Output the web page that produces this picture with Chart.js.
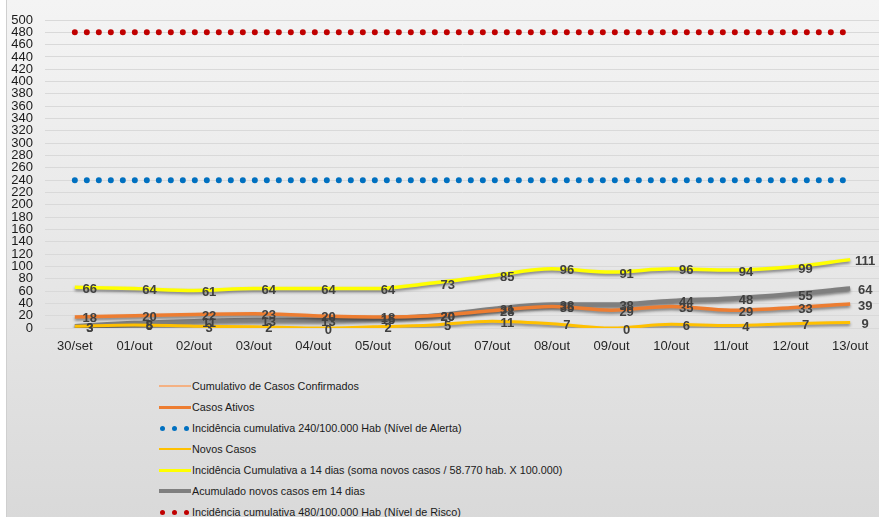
<!DOCTYPE html>
<html>
<head>
<meta charset="utf-8">
<script src="https://cdn.jsdelivr.net/npm/chart.js@4/dist/chart.umd.min.js"></script>
<style>
  html, body { margin: 0; padding: 0; background: #ffffff; overflow: hidden; }
  body { width: 879px; height: 517px; position: relative; }
  #moldura {
    position: absolute; left: 6px; top: -1px; width: 900px; height: 520px;
    border: 1px solid #cfcfcf;
    background: linear-gradient(to bottom, #f4f4f4 0%, #e6e6e6 55%, #d9d9d9 100%);
  }
  #chartContainer { position: absolute; left: 0; top: 0; width: 880px; height: 365px; }
  #legenda {
    position: absolute; left: 157px; top: 375px;
    font-family: "Liberation Sans", Arial, sans-serif; font-size: 10.8px; color: #1a1a1a;
  }
  .item { height: 21px; display: flex; align-items: center; white-space: nowrap; }
  .amostra { width: 34px; height: 10px; position: relative; margin-right: 1px; }
</style>
</head>
<body>
<div id="moldura"></div>
<div id="chartContainer"><canvas id="myLineChart"></canvas></div>
<div id="legenda"></div>
<script>
// Dados
var datas = ['30/set','01/out','02/out','03/out','04/out','05/out','06/out','07/out','08/out','09/out','10/out','11/out','12/out','13/out'];
var cumulativoConfirmados = [];
var casosAtivos = [18, 20, 22, 23, 20, 18, 20, 28, 35, 29, 35, 29, 33, 39];
var nivelAlerta = [240, 240, 240, 240, 240, 240, 240, 240, 240, 240, 240, 240, 240, 240];
var novosCasos = [3, 5, 3, 2, 0, 2, 5, 11, 7, 0, 6, 4, 7, 9];
var incidencia14 = [66, 64, 61, 64, 64, 64, 73, 85, 96, 91, 96, 94, 99, 111];
var acumulado14 = [3, 8, 11, 13, 13, 15, 20, 31, 38, 38, 44, 48, 55, 64];
var nivelRisco = [480, 480, 480, 480, 480, 480, 480, 480, 480, 480, 480, 480, 480, 480];
var ticksY = [0, 20, 40, 60, 80, 100, 120, 140, 160, 180, 200, 220, 240, 260, 280, 300, 320, 340, 360, 380, 400, 420, 440, 460, 480, 500];

document.addEventListener('DOMContentLoaded', function() {
    var ctx = document.getElementById('myLineChart').getContext('2d');
    var chartContainer = document.getElementById('chartContainer');
    ctx.canvas.width = chartContainer.clientWidth;
    ctx.canvas.height = chartContainer.clientHeight;

    // rótulos de valores (ao lado de cada ponto)
    var rotulos = {
        id: 'rotulos',
        afterDatasetsDraw: function(chart) {
            var c = chart.ctx;
            c.save();
            c.font = 'bold 13px "Liberation Sans", Arial, sans-serif';
            c.fillStyle = '#404040';
            c.textAlign = 'center';
            c.textBaseline = 'middle';
            chart.data.datasets.forEach(function(ds, i) {
                if (!ds.mostrarValores) return;
                var meta = chart.getDatasetMeta(i);
                meta.data.forEach(function(pt, j) {
                    c.fillText(String(ds.data[j]), pt.x + 15, pt.y + 2);
                });
            });
            c.restore();
        }
    };
    // sombra das linhas
    var sombra = {
        id: 'sombra',
        beforeDatasetDraw: function(chart, args) {
            var ds = chart.data.datasets[args.index];
            chart.ctx.save();
            if (ds.sombra) {
                chart.ctx.shadowColor = 'rgba(0,0,0,0.45)';
                chart.ctx.shadowBlur = 3;
                chart.ctx.shadowOffsetY = 2;
            }
        },
        afterDatasetDraw: function(chart) {
            chart.ctx.restore();
        }
    };

    var conjuntos = [
        { label: 'Cumulativo de Casos Confirmados', data: cumulativoConfirmados, borderColor: '#f4b183', borderWidth: 1.5, tipo: 'linha' },
        { label: 'Casos Ativos', data: casosAtivos, borderColor: '#ed7d31', borderWidth: 3.5, mostrarValores: true, sombra: true, tipo: 'linha' },
        { label: 'Incidência cumulativa 240/100.000 Hab (Nível de Alerta)', data: nivelAlerta, borderColor: '#0070c0', borderWidth: 6, borderDash: [0, 12], borderCapStyle: 'round', tipo: 'pontos' },
        { label: 'Novos Casos', data: novosCasos, borderColor: '#ffc000', borderWidth: 3, mostrarValores: true, sombra: true, tipo: 'linha' },
        { label: 'Incidência Cumulativa a 14 dias (soma novos casos / 58.770 hab. X 100.000)', data: incidencia14, borderColor: '#ffff00', borderWidth: 3.5, mostrarValores: true, sombra: true, tipo: 'linha' },
        { label: 'Acumulado novos casos em 14 dias', data: acumulado14, borderColor: '#7f7f7f', borderWidth: 4.5, mostrarValores: true, sombra: true, tipo: 'linha' },
        { label: 'Incidência cumulativa 480/100.000 Hab (Nível de Risco)', data: nivelRisco, borderColor: '#c00000', borderWidth: 6, borderDash: [0, 12], borderCapStyle: 'round', tipo: 'pontos' }
    ];
    conjuntos.forEach(function(d) {
        d.pointRadius = 0;
        d.fill = false;
        d.tension = 0.4;
        d.cubicInterpolationMode = 'monotone';
    });

    var grafico = new Chart(ctx, {
        type: 'line',
        data: { labels: datas, datasets: conjuntos },
        options: {
            responsive: false,
            animation: false,
            layout: { padding: { top: 20, right: 0, left: 0, bottom: 0 } },
            plugins: { legend: { display: false }, tooltip: { enabled: false } },
            scales: {
                x: {
                    offset: true,
                    grid: { display: false, drawTicks: false },
                    border: { display: false },
                    ticks: { color: '#262626', padding: 11, maxRotation: 0, autoSkip: false,
                             font: { family: '"Liberation Sans", Arial, sans-serif', size: 13 } },
                    afterFit: function(s) { s.height = 37; }
                },
                y: {
                    min: 0, max: 500,
                    afterBuildTicks: function(s) { s.ticks = ticksY.map(function(v) { return { value: v }; }); },
                    grid: { color: '#d9d9d9', drawTicks: false },
                    border: { display: false },
                    ticks: { color: '#1a1a1a', padding: 12, autoSkip: false,
                             font: { family: '"Liberation Sans", Arial, sans-serif', size: 13 } },
                    afterFit: function(s) { s.width = 45; }
                }
            }
        },
        plugins: [sombra, rotulos]
    });

    // legenda em HTML
    var legenda = document.getElementById('legenda');
    conjuntos.forEach(function(d) {
        var item = document.createElement('div');
        item.className = 'item';
        var amostra = document.createElement('div');
        amostra.className = 'amostra';
        if (d.tipo === 'pontos') {
            for (var k = 0; k < 3; k++) {
                var p = document.createElement('span');
                p.style.cssText = 'position:absolute;top:3px;width:5px;height:5px;border-radius:50%;background:' + d.borderColor + ';left:' + (3 + k * 12) + 'px';
                amostra.appendChild(p);
            }
        } else {
            var l = document.createElement('span');
            var h = Math.max(1.5, d.borderWidth - 0.5);
            l.style.cssText = 'position:absolute;left:2px;width:32px;top:' + (5.5 - h / 2) + 'px;height:' + h + 'px;background:' + d.borderColor;
            amostra.appendChild(l);
        }
        var t = document.createElement('span');
        t.textContent = d.label;
        item.appendChild(amostra);
        item.appendChild(t);
        legenda.appendChild(item);
    });
});
</script>
</body>
</html>
